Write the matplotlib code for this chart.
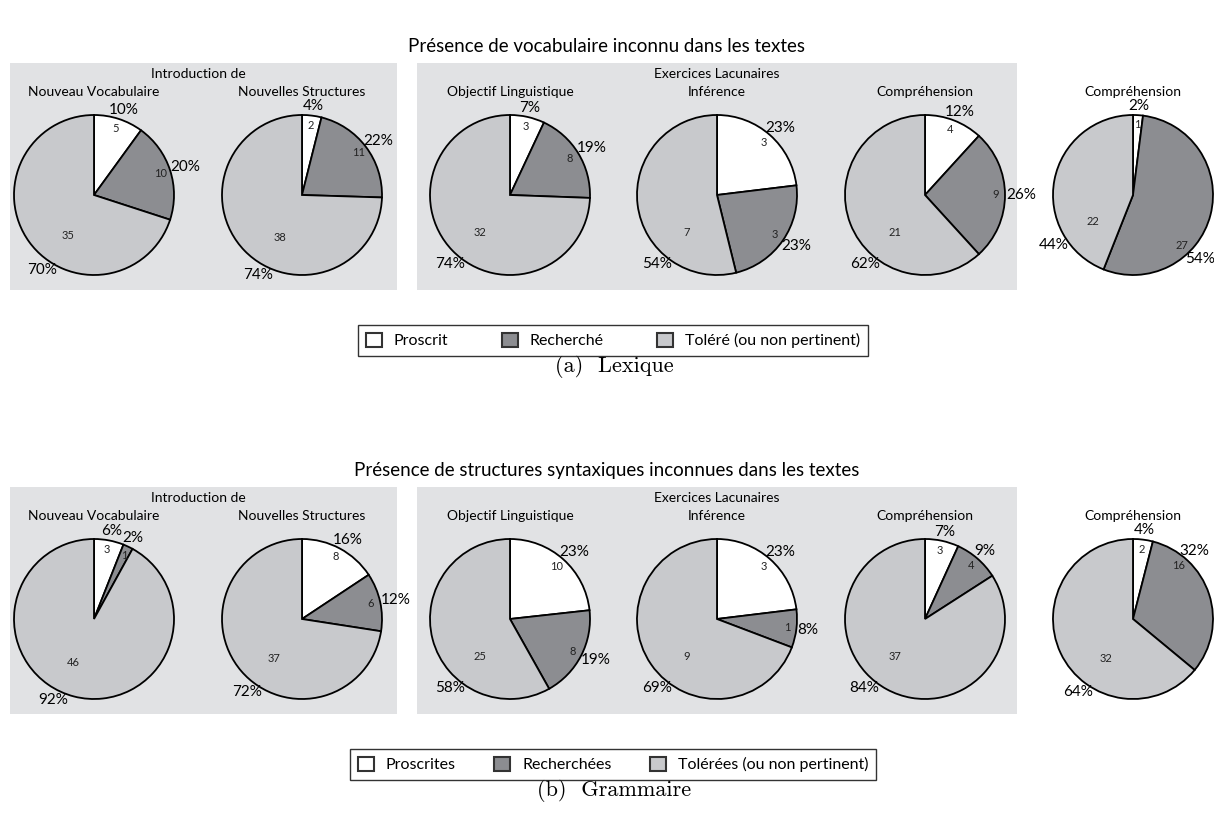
import numpy as np
import matplotlib.pyplot as plt
from matplotlib.patches import Rectangle, Patch

plt.rcParams['font.family'] = ['Lato', 'DejaVu Sans']

# ---- data ----
pie_titles = ['Nouveau Vocabulaire', 'Nouvelles Structures', 'Objectif Linguistique',
              'Inférence', 'Compréhension', 'Compréhension']
group_titles = [('Introduction de', 0, 1), ('Exercices Lacunaires', 3, 3)]

labels_lex = ['Proscrit', 'Recherché', 'Toléré (ou non pertinent)']
labels_gram = ['Proscrites', 'Recherchées', 'Tolérées (ou non pertinent)']

lex_proscrit = [5, 2, 3, 3, 4, 1]
lex_recherche = [10, 11, 8, 3, 9, 27]
lex_tolere = [35, 38, 32, 7, 21, 22]
lex_pct_proscrit = [10, 4, 7, 23, 12, 2]
lex_pct_recherche = [20, 22, 19, 23, 26, 54]
lex_pct_tolere = [70, 74, 74, 54, 62, 44]

gram_proscrit = [3, 8, 10, 3, 3, 2]
gram_recherche = [1, 6, 8, 1, 4, 16]
gram_tolere = [46, 37, 25, 9, 37, 32]
gram_pct_proscrit = [6, 16, 23, 23, 7, 4]
gram_pct_recherche = [2, 12, 19, 8, 9, 32]
gram_pct_tolere = [92, 72, 58, 69, 84, 64]

# label angles (degrees) where the original moved labels away from the slice middle
lex_label_angles = {(0, 2): -123, (1, 2): -117, (2, 2): -129, (3, 2): -129,
                    (4, 2): -129, (5, 2): -146, (5, 1): -46}
gram_label_angles = {(0, 2): -115, (1, 2): -125, (2, 2): -129, (3, 2): -129,
                     (4, 2): -129, (5, 2): -125, (5, 1): 50}

colors = ['white', '#8c8d91', '#c8c9cc']
box_color = '#e1e2e4'

# ---- layout (pixels) ----
W, H = 1214, 827
fig = plt.figure(figsize=(W / 100, H / 100), dpi=100)

pie_x = [94, 302, 510, 717, 925, 1133]
R = 80
L = 1.5


def fx(x):
    return x / W


def fy(y):
    return 1 - y / H


def ftext(x, y, s, **kw):
    fig.text(fx(x), fy(y), s, ha='center', va='center', **kw)


def draw_panel(off, title, counts, pcts, angles, leg_labels, colspace, caption):
    ftext(607, 47 + off, title, fontsize=13.5)
    for x0, x1 in [(10, 397), (417, 1017)]:
        fig.add_artist(Rectangle((fx(x0), fy(290 + off)), (x1 - x0) / W, 227 / H,
                                 transform=fig.transFigure, facecolor=box_color,
                                 edgecolor='none', zorder=-5))
    cy = 195 + off
    for i in range(6):
        cx = pie_x[i]
        ax = fig.add_axes([fx(cx - L * R), fy(cy + L * R), 2 * L * R / W, 2 * L * R / H])
        vals = [c[i] for c in counts]
        wedges, _ = ax.pie(vals, colors=colors, startangle=90, counterclock=False,
                           wedgeprops=dict(edgecolor='black', linewidth=1.3))
        ax.set_xlim(-L, L)
        ax.set_ylim(-L, L)
        ax.axis('off')
        for j, w in enumerate(wedges):
            ang = angles.get((i, j), (w.theta1 + w.theta2) / 2)
            a = np.deg2rad(ang)
            dx, dy = np.cos(a), np.sin(a)
            r_in = 0.6 if j == 2 else 0.88
            ax.text(r_in * dx, r_in * dy, str(vals[j]),
                    ha='center', va='center', fontsize=8, color='#222222')
            s = f'{pcts[j][i]}%'
            hw = len(s) * 4.5 / R
            hh = 7 / R
            ax.text(1.03 * dx + dx * hw, 1.03 * dy + dy * hh, s,
                    ha='center', va='center', fontsize=11)
        ftext(cx, 92 + off, pie_titles[i], fontsize=10)
    for g, a, b in group_titles:
        ftext((pie_x[a] + pie_x[b]) / 2, 74 + off, g, fontsize=10)

    handles = [Patch(facecolor=c, edgecolor='#333333', linewidth=1.5) for c in colors]
    leg = fig.legend(handles, leg_labels, loc='center', ncol=3,
                     bbox_to_anchor=(fx(613), fy(340.5 + off)), fontsize=11.5,
                     frameon=True, fancybox=False, edgecolor='black',
                     handlelength=1.0, handleheight=1.0, handletextpad=0.75,
                     columnspacing=colspace, borderpad=0.5)
    leg.get_frame().set_linewidth(1.0)
    ftext(614, 367 + off, caption, fontsize=16, family='cmr10')


draw_panel(0, 'Présence de vocabulaire inconnu dans les textes',
           [lex_proscrit, lex_recherche, lex_tolere],
           [lex_pct_proscrit, lex_pct_recherche, lex_pct_tolere],
           lex_label_angles, labels_lex, 3.35, '(a)  Lexique')
draw_panel(424, 'Présence de structures syntaxiques inconnues dans les textes',
           [gram_proscrit, gram_recherche, gram_tolere],
           [gram_pct_proscrit, gram_pct_recherche, gram_pct_tolere],
           gram_label_angles, labels_gram, 2.4, '(b)  Grammaire')

fig.savefig('out.png', dpi=100)
